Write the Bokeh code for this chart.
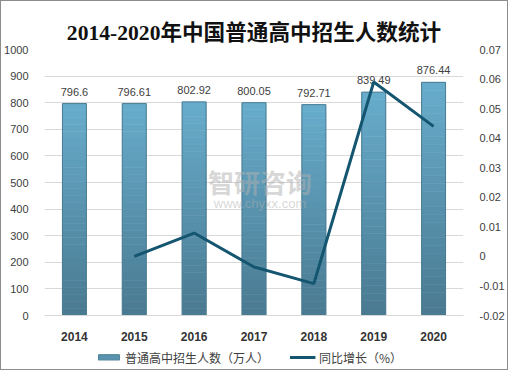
from bokeh.plotting import figure
from bokeh.layouts import column
from bokeh.models import (Range1d, LinearAxis, FixedTicker, NumeralTickFormatter,
                          ColumnDataSource, Legend, LegendItem, Label, FactorRange)
from bokeh.embed import file_html
from bokeh.resources import INLINE
from bokeh.core.properties import value

years = ["2014", "2015", "2016", "2017", "2018", "2019", "2020"]
enroll = [796.6, 796.61, 802.92, 800.05, 792.71, 839.49, 876.44]
enroll_labels = ["796.6", "796.61", "802.92", "800.05", "792.71", "839.49", "876.44"]
growth_years = ["2015", "2016", "2017", "2018", "2019", "2020"]
growth = [0.00001, 0.0079, -0.0036, -0.0092, 0.059, 0.044]
left_ticks = [0, 100, 200, 300, 400, 500, 600, 700, 800, 900, 1000]
right_ticks = [-0.02, -0.01, 0, 0.01, 0.02, 0.03, 0.04, 0.05, 0.06, 0.07]
bar_name = "普通高中招生人数（万人）"
line_name = "同比增长（%）"

BAR_COLOR_MID = "#5a93ad"
LINE_COLOR = "#145570"

p = figure(frame_width=419, frame_height=266, output_backend="svg", toolbar_location=None,
           x_range=FactorRange(*years), y_range=Range1d(0, 1000),
           min_border_left=39, min_border_right=38, min_border_top=48, min_border_bottom=30)
p.extra_y_ranges = {"g": Range1d(-0.02, 0.07)}
p.outline_line_color = None
p.background_fill_color = "white"
p.border_fill_color = "white"

p.title.text = "2014-2020年中国普通高中招生人数统计"
p.title.align = "center"
p.title.text_font = "Liberation Serif, Noto Sans CJK SC"
p.title.text_font_size = "21.6px"
p.title.text_font_style = "bold"
p.title.text_color = "#111111"
p.title.offset = 0

# gradient bars built as stacked bands
n = 30
top_c = (0x68, 0xad, 0xcd)
bot_c = (0x4a, 0x7a, 0x90)
bx, btop, bbot, bcol = [], [], [], []
for yr, v in zip(years, enroll):
    for k in range(n):
        t = (k + 0.5) / n
        c = tuple(int(bot_c[i] + (top_c[i] - bot_c[i]) * t) for i in range(3))
        bx.append(yr)
        bbot.append(v * k / n)
        btop.append(v * (k + 1) / n)
        bcol.append("#%02x%02x%02x" % c)
bsrc = ColumnDataSource(dict(x=bx, top=btop, bottom=bbot, color=bcol))
p.vbar(x="x", top="top", bottom="bottom", width=0.4, source=bsrc,
       fill_color="color", line_color="color", line_width=0.6)
p.vbar(x=years, top=enroll, width=0.4, fill_alpha=0, line_color="#4a7d94", line_width=1)

lsrc = ColumnDataSource(dict(x=years, y=enroll, t=enroll_labels))
p.text(x="x", y="y", text="t", source=lsrc, text_align="center", text_baseline="bottom",
       y_offset=-8, text_font=value("Liberation Sans"), text_font_size="11px",
       text_color="#404040")

p.line(x=growth_years, y=growth, y_range_name="g", line_color=LINE_COLOR, line_width=3)

# watermark
p.add_layout(Label(x=3.6, y=505, text="智研咨询", text_align="center", text_baseline="middle",
                   text_font="Noto Sans CJK SC", text_font_size="26px", text_font_style="bold",
                   text_color="#b0b0b0", text_alpha=0.5))
p.add_layout(Label(x=3.6, y=420, text="www.chyxx.com", text_align="center", text_baseline="middle",
                   text_font="Liberation Sans", text_font_size="13px",
                   text_color="#b0b0b0", text_alpha=0.5))

# axes
p.yaxis.ticker = FixedTicker(ticks=left_ticks)
p.yaxis.axis_line_color = None
p.yaxis.major_tick_line_color = None
p.yaxis.minor_tick_line_color = None
p.yaxis.major_label_text_font = "Liberation Sans"
p.yaxis.major_label_text_font_size = "11px"
p.yaxis.major_label_text_color = "#404040"
p.yaxis.major_label_standoff = 10

ra = LinearAxis(y_range_name="g", ticker=FixedTicker(ticks=right_ticks),
                formatter=NumeralTickFormatter(format="0.[00]"))
ra.axis_line_color = None
ra.major_tick_line_color = None
ra.minor_tick_line_color = None
ra.major_label_text_font = "Liberation Sans"
ra.major_label_text_font_size = "11px"
ra.major_label_text_color = "#404040"
ra.major_label_standoff = 10
p.add_layout(ra, "right")

p.xaxis.axis_line_color = "#d9d9d9"
p.xaxis.major_tick_line_color = None
p.xaxis.minor_tick_line_color = None
p.xaxis.major_label_text_font = "Liberation Sans"
p.xaxis.major_label_text_font_size = "12px"
p.xaxis.major_label_text_font_style = "bold"
p.xaxis.major_label_text_color = "#333333"
p.xaxis.major_label_standoff = 10

p.xgrid.grid_line_color = None
p.ygrid.grid_line_color = "#d9d9d9"

# legend in a separate strip below (keys use off-view placeholder data)
lf = figure(width=p.frame_width + 39 + 38, height=24, output_backend="svg", toolbar_location=None,
            x_range=Range1d(0, 1), y_range=Range1d(0, 1),
            min_border=0, min_border_left=0, min_border_right=0, min_border_top=0, min_border_bottom=0)
lf.axis.visible = False
lf.grid.visible = False
lf.outline_line_color = None
lf.border_fill_color = "white"
lf_bar = lf.vbar(x=[-5], top=[-5], bottom=[-6], width=0.1, fill_color=BAR_COLOR_MID, line_color="#4a7d94")
lf_line = lf.line(x=[-5, -6], y=[-5, -6], line_color=LINE_COLOR, line_width=3)
legend = Legend(items=[LegendItem(label=bar_name, renderers=[lf_bar]),
                       LegendItem(label=line_name, renderers=[lf_line])],
                orientation="horizontal", location="center",
                label_text_font="Noto Sans CJK SC", label_text_font_size="12px",
                label_text_color="#404040", glyph_width=26, glyph_height=7,
                spacing=20, padding=0, margin=0, border_line_color=None,
                background_fill_alpha=0, label_standoff=4)
lf.add_layout(legend, "center")

layout = column(p, lf, spacing=0, styles={"border": "1px solid #8c8c8c"})
open("out.html", "w").write(file_html(layout, INLINE))
